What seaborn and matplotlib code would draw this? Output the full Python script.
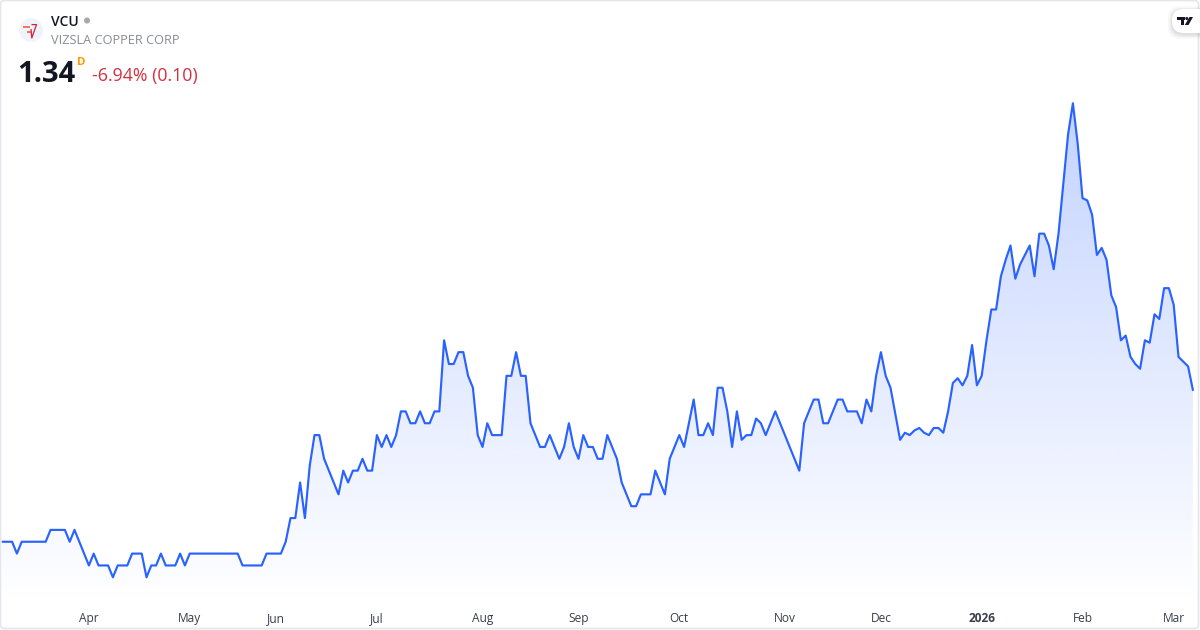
import numpy as np
import pandas as pd
import matplotlib.pyplot as plt
import seaborn as sns
from matplotlib.patches import Circle, FancyBboxPatch, Polygon

# Daily closes, one stretch per line
close = [
    0.70, 0.70, 0.70, 0.65, 0.70, 0.70, 0.70, 0.70, 0.70, 0.70,
    0.75, 0.75, 0.75, 0.75, 0.70, 0.75, 0.70, 0.65, 0.60, 0.65,
    0.60, 0.60, 0.60, 0.55, 0.60, 0.60, 0.60, 0.65, 0.65, 0.65,
    0.55, 0.60, 0.60, 0.65, 0.60, 0.60, 0.60, 0.65, 0.60, 0.65,
    0.65, 0.65, 0.65, 0.65, 0.65, 0.65, 0.65, 0.65, 0.65, 0.65,
    0.60, 0.60, 0.60, 0.60, 0.60, 0.65, 0.65, 0.65, 0.65, 0.70,
    0.80, 0.80, 0.95, 0.80, 1.02, 1.15, 1.15, 1.05, 1.00, 0.95,
    0.90, 1.00, 0.95, 1.00, 1.00, 1.05, 1.00, 1.00, 1.15, 1.10,
    1.15, 1.10, 1.15, 1.25, 1.25, 1.20, 1.20, 1.25, 1.20, 1.20,
    1.25, 1.25, 1.55, 1.45, 1.45, 1.50, 1.50, 1.40, 1.35, 1.15,
    1.10, 1.20, 1.15, 1.15, 1.15, 1.40, 1.40, 1.50, 1.40, 1.40,
    1.20, 1.15, 1.10, 1.10, 1.15, 1.10, 1.05, 1.10, 1.20, 1.10,
    1.05, 1.15, 1.10, 1.10, 1.05, 1.05, 1.15, 1.10, 1.05, 0.95,
    0.90, 0.85, 0.85, 0.90, 0.90, 0.90, 1.00, 0.95, 0.90, 1.05,
    1.10, 1.15, 1.10, 1.20, 1.30, 1.15, 1.15, 1.20, 1.15, 1.35,
    1.35, 1.25, 1.10, 1.25, 1.13, 1.15, 1.15, 1.22, 1.20, 1.15,
    1.20, 1.25, 1.20, 1.15, 1.10, 1.05, 1.00, 1.20, 1.25, 1.30,
    1.30, 1.20, 1.20, 1.25, 1.30, 1.30, 1.25, 1.25, 1.25, 1.20,
    1.30, 1.25, 1.40, 1.50, 1.40, 1.35, 1.24, 1.13, 1.16, 1.15,
    1.17, 1.18, 1.16, 1.15, 1.18, 1.18, 1.16, 1.25, 1.37, 1.39,
    1.36, 1.40, 1.53, 1.36, 1.40, 1.55, 1.68, 1.68, 1.82, 1.89,
    1.95, 1.81, 1.87, 1.91, 1.95, 1.82, 2.00, 2.00, 1.95, 1.85,
    2.00, 2.21, 2.42, 2.55, 2.38, 2.15, 2.14, 2.08, 1.91, 1.94,
    1.89, 1.74, 1.69, 1.55, 1.57, 1.48, 1.45, 1.43, 1.55, 1.54,
    1.66, 1.64, 1.77, 1.77, 1.70, 1.48, 1.46, 1.44, 1.34,
]
month_labels = ['Apr', 'May', 'Jun', 'Jul', 'Aug', 'Sep', 'Oct', 'Nov', 'Dec', '2026', 'Feb', 'Mar']
month_starts = [18, 39, 57, 78, 100, 120, 141, 163, 183, 204, 225, 244]

LINE = '#2962FF'
W, H = 1200, 630
FILL_END = 604  # pixel row where the area gradient reaches white

sns.set_theme(style='white')
plt.rcParams['font.family'] = ['Open Sans', 'DejaVu Sans']

df = pd.DataFrame({'session': np.arange(len(close)), 'close': close})

fig = plt.figure(figsize=(12, 6.3), dpi=100, facecolor='white')
ax = fig.add_axes([0, 0, 1, 1])
ax.patch.set_alpha(0)

# axis limits put one session at 4.8 px and one dollar at 237 px
ymin = 1.35 + (387.7 - H) / 237
ymax = 1.35 + 387.7 / 237
fill_floor = 1.35 + (387.7 - FILL_END) / 237

# gradient under the line, clipped to the area below the closes
band = ax.fill_between(df['session'], df['close'], fill_floor, facecolor='none', edgecolor='none')
grad = np.zeros((256, 2, 4))
grad[..., 0] = 41 / 255
grad[..., 1] = 98 / 255
grad[..., 2] = 1.0
grad[..., 3] = np.linspace(0.28, 0, 256)[:, None]
img = ax.imshow(grad, extent=(0, len(close) - 1, fill_floor, df['close'].max()), aspect='auto', zorder=1)
img.set_clip_path(band.get_paths()[0], ax.transData)

sns.lineplot(data=df, x='session', y='close', color=LINE, linewidth=1.55, ax=ax, zorder=3, errorbar=None)

ax.set_xlim(-2.5 / 4.8, (W - 2.5) / 4.8)
ax.set_ylim(ymin, ymax)
ax.set_xlabel('')
ax.set_ylabel('')
ax.set_yticks([])
ax.set_xticks(month_starts)
ax.set_xticklabels(month_labels, fontsize=8.6, color='#3a3e4a')
ax.get_xticklabels()[month_labels.index('2026')].set_fontweight('bold')
ax.tick_params(axis='x', length=0, pad=-13, direction='in')
sns.despine(ax=ax, left=True, bottom=True)

# overlay in pixel coordinates for the header, logos and card border
ov = fig.add_axes([0, 0, 1, 1])
ov.set_xlim(0, W)
ov.set_ylim(H, 0)
ov.axis('off')
ov.patch.set_alpha(0)

ov.add_patch(FancyBboxPatch((0.5, 0.5), W - 2, H - 2, boxstyle='round,pad=0,rounding_size=4',
                            facecolor='none', edgecolor='#e4e6ec', linewidth=1.2))

# symbol logo
ov.add_patch(Circle((31, 30), 12, facecolor='#f0f3fa', edgecolor='none'))
ov.plot([23.3, 30], [26.7, 26.7], color='#f0502d', lw=1.1, solid_capstyle='butt')
ov.plot([26.5, 30.8], [32, 32], color='#f0502d', lw=1.1, solid_capstyle='butt')
ov.plot([31.5, 36.5, 31.8, 31], [24.6, 24.6, 38, 29], color='#d91f3c', lw=0.9, solid_capstyle='butt')

ov.text(51, 21.5, 'VCU', fontsize=10, fontweight='semibold', color='#131722', va='center', ha='left')
ov.add_patch(Circle((87, 20.5), 3, facecolor='#a8a8a8', edgecolor='none'))
ov.text(51, 41, 'VIZSLA COPPER CORP', fontsize=9.2, color='#8a8d96', va='center', ha='left')
ov.text(17, 74, '1.34', fontsize=21, fontweight='bold', color='#131722', va='center', ha='left')
ov.text(77, 62.5, 'D', fontsize=8.2, fontweight='bold', color='#ff9800', va='center', ha='left')
ov.text(92, 76, '-6.94% (0.10)', fontsize=12.8, color='#d4303f', va='center', ha='left')

# TradingView badge in the top right corner
for grow, alpha in [(4, 0.03), (2.5, 0.04), (1, 0.05)]:
    ov.add_patch(FancyBboxPatch((1172 - grow, 9 - grow + 1.5), 50 + 2 * grow, 24 + 2 * grow,
                                boxstyle='round,pad=0,rounding_size=12', facecolor='black',
                                edgecolor='none', alpha=alpha, clip_on=True))
ov.add_patch(FancyBboxPatch((1172, 9), 50, 24, boxstyle='round,pad=0,rounding_size=12',
                            facecolor='white', edgecolor='none'))
ov.add_patch(Polygon([(1177, 17), (1185, 17), (1185, 20), (1184, 20), (1184, 25), (1180.5, 25),
                      (1180.5, 20), (1177, 20)], closed=True, facecolor='#131722', edgecolor='none'))
ov.add_patch(Circle((1186.8, 18.5), 1.5, facecolor='#131722', edgecolor='none'))
ov.add_patch(Polygon([(1189.5, 17), (1193, 17), (1188.5, 25), (1184.8, 25)], closed=True,
                     facecolor='#131722', edgecolor='none'))

fig.savefig('out.png', dpi=100)
